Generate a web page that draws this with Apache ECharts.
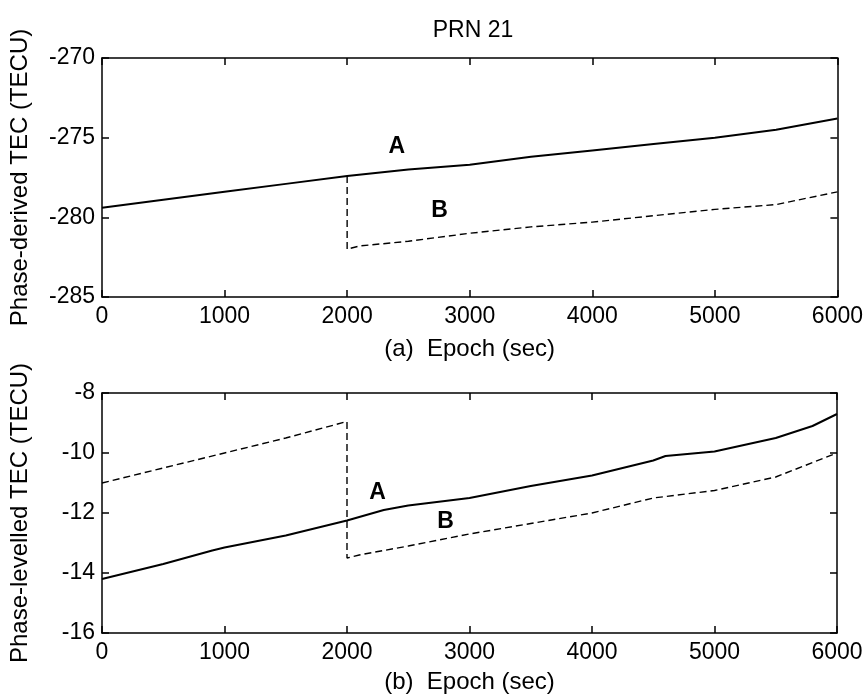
<!DOCTYPE html>
<html>
<head>
<meta charset="utf-8">
<script src="https://cdn.jsdelivr.net/npm/echarts@6/dist/echarts.min.js"></script>
<style>
  html, body { margin: 0; padding: 0; background: #fff; }
  #chart { width: 866px; height: 699px; }
</style>
</head>
<body>
<div id="chart"></div>
<script>
// Panel (a): phase-derived TEC, PRN 21
const epochDerivedA = [0, 500, 1000, 1500, 2000, 2500, 3000, 3500, 4000, 4500, 5000, 5500, 6000];
const tecDerivedA   = [-279.4, -278.9, -278.4, -277.9, -277.4, -277.0, -276.7, -276.2, -275.8, -275.4, -275.0, -274.5, -273.8];
const epochDerivedB = [2000, 2000, 2100, 2500, 3000, 3500, 4000, 4500, 5000, 5500, 6000];
const tecDerivedB   = [-277.4, -282.0, -281.8, -281.5, -281.0, -280.6, -280.3, -279.9, -279.5, -279.2, -278.4];

// Panel (b): phase-levelled TEC
const epochLevelledA = [0, 500, 900, 1000, 1500, 2000, 2300, 2500, 3000, 3500, 4000, 4500, 4600, 5000, 5500, 5800, 6000];
const tecLevelledA   = [-14.2, -13.7, -13.25, -13.15, -12.75, -12.25, -11.9, -11.75, -11.5, -11.1, -10.75, -10.25, -10.1, -9.95, -9.5, -9.1, -8.7];
const epochLevelledB = [0, 500, 1000, 1500, 2000, 2000, 2100, 2500, 3000, 3500, 4000, 4500, 5000, 5500, 6000];
const tecLevelledB   = [-11.0, -10.5, -10.0, -9.5, -8.95, -13.5, -13.4, -13.1, -12.7, -12.35, -12.0, -11.5, -11.25, -10.8, -10.0];

// Curve tags placed in data coordinates: [epoch, TEC, text]
const tagsDerived   = [[2405, -275.55, 'A'], [2755, -279.6, 'B']];
const tagsLevelled  = [[2250, -11.33, 'A'], [2805, -12.3, 'B']];

const xRange = { min: 0, max: 6000, interval: 1000 };
const yRangeDerived   = { min: -285, max: -270, interval: 5 };
const yRangeLevelled  = { min: -16, max: -8, interval: 2 };

const FONT = 'Liberation Sans, Arial, Helvetica, sans-serif';
const INK = '#000';

function pairs(xs, ys) { return xs.map((x, i) => [x, ys[i]]); }

function frameLine() { return { show: true, onZero: false, lineStyle: { color: INK, width: 1.5 } }; }
function innerTicks() { return { show: true, inside: true, length: 7, lineStyle: { color: INK, width: 1.5 } }; }
const plain = v => String(v);

function xAxes(gridIndex, name, nameGap) {
  return [
    Object.assign({
      gridIndex, type: 'value', position: 'bottom',
      name, nameLocation: 'middle', nameGap,
      nameTextStyle: { color: INK, fontSize: 24, fontFamily: FONT },
      axisLine: frameLine(), axisTick: innerTicks(),
      axisLabel: { color: INK, fontSize: 23, fontFamily: FONT, margin: 8, formatter: plain },
      splitLine: { show: false }
    }, xRange),
    Object.assign({
      gridIndex, type: 'value', position: 'top',
      axisLine: frameLine(), axisTick: innerTicks(),
      axisLabel: { show: false }, splitLine: { show: false }
    }, xRange)
  ];
}

function yAxes(gridIndex, range, name) {
  return [
    Object.assign({
      gridIndex, type: 'value', position: 'left',
      name, nameLocation: 'middle', nameGap: 70, nameRotate: 90,
      nameTextStyle: { color: INK, fontSize: 24, fontFamily: FONT },
      axisLine: frameLine(), axisTick: innerTicks(),
      axisLabel: { color: INK, fontSize: 23, fontFamily: FONT, margin: 7, formatter: plain },
      splitLine: { show: false }
    }, range),
    Object.assign({
      gridIndex, type: 'value', position: 'right',
      axisLine: frameLine(), axisTick: innerTicks(),
      axisLabel: { show: false }, splitLine: { show: false }
    }, range)
  ];
}

function tagPoints(tags) {
  return {
    symbol: 'rect', symbolSize: 1,
    itemStyle: { color: 'rgba(0,0,0,0)' },
    label: {
      show: true, position: 'inside', color: INK,
      fontSize: 23, fontWeight: 'bold', fontFamily: FONT,
      formatter: p => p.name
    },
    data: tags.map(t => ({ name: t[2], coord: [t[0], t[1]] }))
  };
}

function curve(xIdx, yIdx, xs, ys, dashed, tags) {
  const s = {
    type: 'line', xAxisIndex: xIdx, yAxisIndex: yIdx,
    data: pairs(xs, ys), showSymbol: false, symbol: 'none',
    animation: false, silent: true,
    lineStyle: dashed
      ? { color: INK, width: 1.4, type: [7, 4] }
      : { color: INK, width: 2 },
    z: dashed ? 2 : 3
  };
  if (tags) s.markPoint = tagPoints(tags);
  return s;
}

const chart = echarts.init(document.getElementById('chart'), null, { renderer: 'canvas' });
chart.setOption({
  backgroundColor: '#fff',
  animation: false,
  title: {
    text: 'PRN 21', left: 468, top: 14, textAlign: 'center',
    textStyle: { color: INK, fontSize: 23, fontWeight: 'normal', fontFamily: FONT }
  },
  grid: [
    { left: 102, top: 58, width: 736, height: 239 },
    { left: 101, top: 393, width: 736, height: 240 }
  ],
  xAxis: [].concat(
    xAxes(0, '(a)  Epoch (sec)', 40),
    xAxes(1, '(b)  Epoch (sec)', 37)
  ),
  yAxis: [].concat(
    yAxes(0, yRangeDerived, 'Phase-derived TEC (TECU)'),
    yAxes(1, yRangeLevelled, 'Phase-levelled TEC (TECU)')
  ),
  series: [
    curve(0, 0, epochDerivedB, tecDerivedB, true, null),
    curve(0, 0, epochDerivedA, tecDerivedA, false, tagsDerived),
    curve(2, 2, epochLevelledB, tecLevelledB, true, null),
    curve(2, 2, epochLevelledA, tecLevelledA, false, tagsLevelled)
  ]
});
</script>
</body>
</html>
